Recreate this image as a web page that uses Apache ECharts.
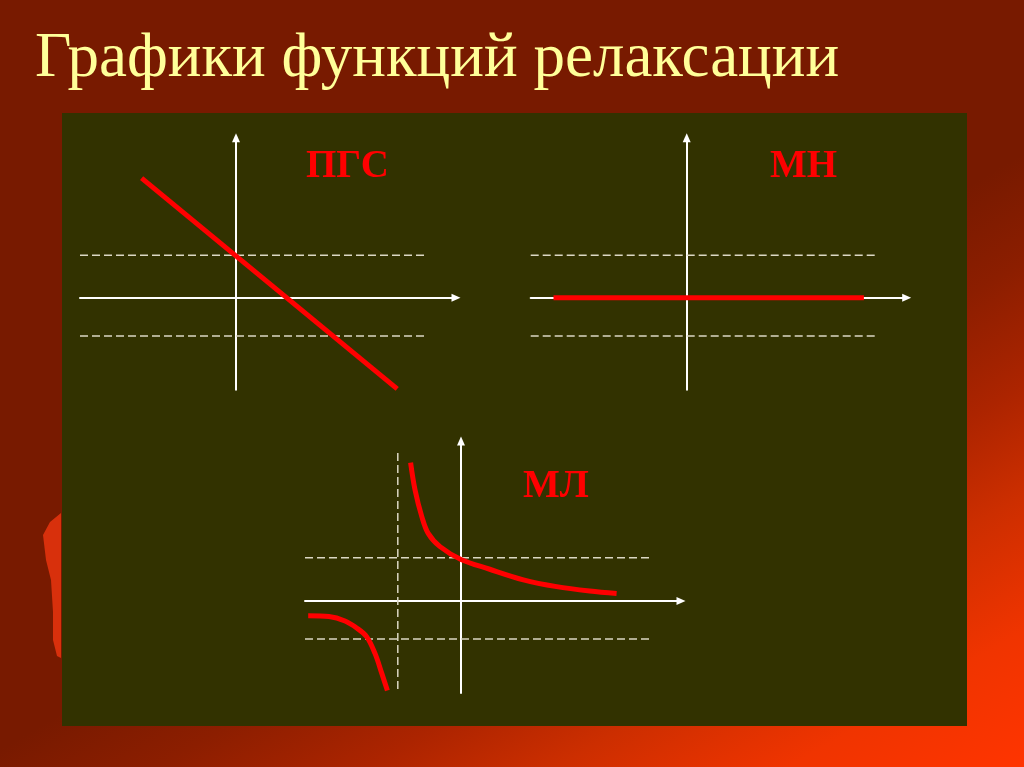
<!DOCTYPE html>
<html>
<head>
<meta charset="utf-8">
<script src="https://cdn.jsdelivr.net/npm/echarts@6/dist/echarts.min.js"></script>
<style>html,body{margin:0;padding:0;}#c{width:1024px;height:767px;}</style>
</head>
<body>
<div id="c"></div>
<script>
// ---- Data ----
const titleText = 'Графики функций релаксации';
const panelLabels = ['ПГС', 'МН', 'МЛ'];
const xRange = [-3.9, 5.5];
const yRange = [-2.3, 4.0];
const dashEndX = 4.78;
// horizontal dashed levels for each panel [upper, lower]
const levels1 = [1.06, -0.96];
const levels2 = [1.06, -0.96];
const levels3 = [1.08, -0.95];
// vertical asymptote for ML
const asymptoteX = -1.58;
const asymptoteY = [3.7, -2.3];
// ПГС: straight decreasing line
const pgsLine = [[-2.36, 2.99], [4.03, -2.28]];
// МН: constant zero
const mnLine = [[-3.33, 0], [4.43, 0]];
// МЛ: hyperbola branches
const mlUpper = [[-1.26, 3.46], [-1.15, 2.78], [-0.98, 2.11], [-0.82, 1.69], [-0.525, 1.36], [0, 1.04], [0.7, 0.8], [1.56, 0.53], [2.39, 0.36], [3.22, 0.25], [3.89, 0.19]];
const mlLower = [[-3.82, -0.37], [-3.3, -0.39], [-2.9, -0.5], [-2.6, -0.68], [-2.36, -0.89], [-2.15, -1.31], [-1.98, -1.81], [-1.84, -2.24]];

// ---- Styles ----
const RED = '#ff0000';
const AXIS = '#ffffff';
const DASH = '#dcd8c4';
const grids = [
  { left: 80, top: 137.7, width: 376, height: 252 },
  { left: 530.7, top: 137.7, width: 376, height: 252 },
  { left: 305, top: 441, width: 376, height: 252 }
];

function axisLine() {
  return { show: true, onZero: true, symbol: ['none', 'triangle'], symbolSize: [8, 9], lineStyle: { color: AXIS, width: 2 } };
}
function mkX(i) {
  return { type: 'value', gridIndex: i, min: xRange[0], max: xRange[1], axisLine: axisLine(),
    axisTick: { show: false }, axisLabel: { show: false }, splitLine: { show: false } };
}
function mkY(i) {
  return { type: 'value', gridIndex: i, min: yRange[0], max: yRange[1], axisLine: axisLine(),
    axisTick: { show: false }, axisLabel: { show: false }, splitLine: { show: false } };
}
function dashH(i, y) {
  return { type: 'line', xAxisIndex: i, yAxisIndex: i, data: [[xRange[0], y], [dashEndX, y]], symbol: 'none', silent: true, z: 1,
    lineStyle: { color: DASH, width: 1.5, type: [8, 4] } };
}
function redLine(i, data, smooth) {
  return { type: 'line', xAxisIndex: i, yAxisIndex: i, data: data, symbol: 'none', smooth: smooth || false,
    z: 3, lineStyle: { color: RED, width: 5, cap: 'butt' } };
}

const series = [
  dashH(0, levels1[0]), dashH(0, levels1[1]),
  dashH(1, levels2[0]), dashH(1, levels2[1]),
  dashH(2, levels3[0]), dashH(2, levels3[1]),
  { type: 'line', xAxisIndex: 2, yAxisIndex: 2, data: [[asymptoteX, asymptoteY[0]], [asymptoteX, asymptoteY[1]]], symbol: 'none', z: 1,
    lineStyle: { color: DASH, width: 1.5, type: [8, 4] } },
  redLine(0, pgsLine),
  redLine(1, mnLine),
  redLine(2, mlUpper, 0.35),
  redLine(2, mlLower, 0.35)
];

const labelStyle = { fontFamily: 'Liberation Serif', fontWeight: 'bold', fontSize: 39, color: RED };

const chart = echarts.init(document.getElementById('c'), null, { renderer: 'canvas' });
chart.setOption({
  animation: false,
  backgroundColor: {
    type: 'linear', x: 0, y: 0, x2: 592, y2: 1018, global: true,
    colorStops: [
      { offset: 0, color: '#781a00' },
      { offset: 0.55, color: '#781a00' },
      { offset: 0.63, color: '#8c1e00' },
      { offset: 0.72, color: '#ac2400' },
      { offset: 0.8, color: '#cc2e00' },
      { offset: 0.9, color: '#f03400' },
      { offset: 1, color: '#ff3400' }
    ]
  },
  title: [
    { text: titleText, left: 35, top: 28, padding: 0, textStyle: { fontFamily: 'Liberation Serif', fontWeight: 'normal', fontSize: 63, color: '#ffff99' } },
    { text: panelLabels[0], left: 306, top: 147, padding: 0, textStyle: labelStyle },
    { text: panelLabels[1], left: 770, top: 147, padding: 0, textStyle: labelStyle },
    { text: panelLabels[2], left: 523, top: 467, padding: 0, textStyle: labelStyle }
  ],
  graphic: [
    { type: 'rect', z: -10, shape: { x: 62, y: 113, width: 905, height: 613 }, style: { fill: '#323200' } },
    { type: 'polygon', z: -10, shape: { points: [[61, 513], [50, 522], [43, 535], [46, 560], [51, 580], [53, 612], [53, 640], [57, 656], [61, 658]] }, style: { fill: '#d8300c' } }
  ],
  grid: grids,
  xAxis: [mkX(0), mkX(1), mkX(2)],
  yAxis: [mkY(0), mkY(1), mkY(2)],
  series: series
});
</script>
</body>
</html>
